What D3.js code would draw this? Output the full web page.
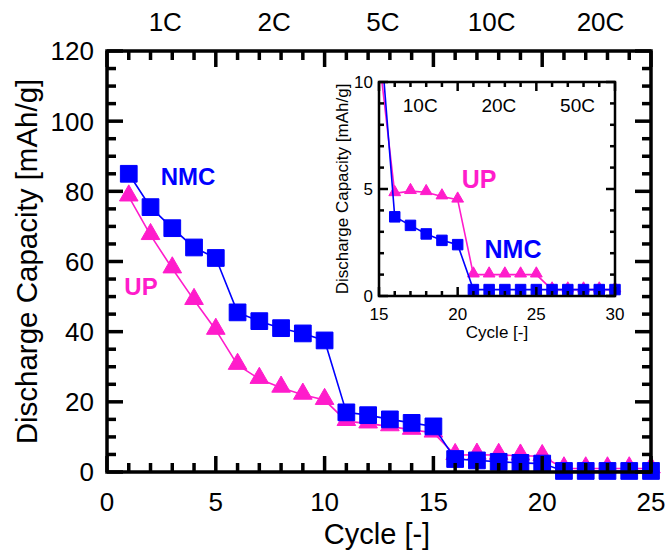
<!DOCTYPE html>
<html>
<head>
<meta charset="utf-8">
<script src="https://cdn.jsdelivr.net/npm/d3@7"></script>
<style>
  body { margin: 0; background: #fff; }
  text { font-family: "Liberation Sans", Arial, sans-serif; fill: #000; }
</style>
</head>
<body>
<div id="chartDivId"></div>
<script>
// Data
const cycles = [1, 2, 3, 4, 5, 6, 7, 8, 9, 10, 11, 12, 13, 14, 15,
                16, 17, 18, 19, 20, 21, 22, 23, 24, 25, 26, 27, 28, 29, 30];
const nmcCapacity = [85, 75.5, 69.5, 64, 61, 45.5, 43, 41, 39.5, 37.5,
                     17, 16.2, 15, 14, 13, 3.7, 3.3, 2.9, 2.6, 2.4,
                     0.3, 0.3, 0.3, 0.3, 0.3, 0.3, 0.3, 0.3, 0.3, 0.3];
const upCapacity = [78.5, 67.5, 58, 49, 40.5, 30.5, 26.5, 24, 22, 20.5,
                    14.5, 13.8, 13, 12, 11.2, 4.8, 4.9, 4.85, 4.65, 4.5,
                    1, 1, 1, 1, 1, 0.3, 0.3, 0.3, 0.3, 0.3];
const mainRates = ["1C", "2C", "5C", "10C", "20C"];
const mainRateCycles = [3, 8, 13, 18, 23];
const insetRates = ["10C", "20C", "50C"];
const insetRateCycles = [18, 23, 28];
const mainXTicks = [0, 5, 10, 15, 20, 25];
const mainYTicks = [0, 20, 40, 60, 80, 100, 120];
const insetXTicks = [15, 20, 25, 30];
const insetYTicks = [0, 5, 10];

const blue = "#0000ff";
const pink = "#ff1ccb";

const nmc = cycles.map((c, i) => ({ cycle: c, cap: nmcCapacity[i] }));
const up = cycles.map((c, i) => ({ cycle: c, cap: upCapacity[i] }));

const svg = d3.select("#chartDivId").append("svg")
    .attr("width", 672).attr("height", 551);
svg.append("rect").attr("width", 672).attr("height", 551).attr("fill", "#fff");

// draw a boxed frame with inward ticks on all four sides
function frame(g, x, y, opt) {
    const [x0, x1] = x.range();
    const [y0, y1] = y.range();
    const minorX = d3.range(x.domain()[0], x.domain()[1] + 0.001, opt.xMinor);
    const minorY = d3.range(y.domain()[0], y.domain()[1] + 0.001, opt.yMinor);
    const tk = g.append("g").attr("stroke", "#000").attr("stroke-width", opt.sw);
    minorX.forEach(v => {
        const len = opt.xMajor.includes(v) ? opt.major : opt.minor;
        tk.append("line").attr("x1", x(v)).attr("x2", x(v)).attr("y1", y0).attr("y2", y0 - len);
        tk.append("line").attr("x1", x(v)).attr("x2", x(v)).attr("y1", y1).attr("y2", y1 + len);
    });
    minorY.forEach(v => {
        const len = opt.yMajor.includes(v) ? opt.major : opt.minor;
        tk.append("line").attr("y1", y(v)).attr("y2", y(v)).attr("x1", x0).attr("x2", x0 + len);
        tk.append("line").attr("y1", y(v)).attr("y2", y(v)).attr("x1", x1).attr("x2", x1 - len);
    });
    g.append("rect")
        .attr("x", x0).attr("y", y1)
        .attr("width", x1 - x0).attr("height", y0 - y1)
        .attr("fill", "none").attr("stroke", "#000").attr("stroke-width", opt.sw);

    g.selectAll(".xl").data(opt.xMajor).enter().append("text")
        .attr("x", d => x(d)).attr("y", y0 + opt.xLabDy)
        .attr("text-anchor", "middle").style("font-size", opt.fs + "px")
        .text(d => d);
    g.selectAll(".yl").data(opt.yMajor).enter().append("text")
        .attr("x", x0 - opt.yLabDx).attr("y", d => y(d) + opt.fs * 0.36)
        .attr("text-anchor", "end").style("font-size", opt.fs + "px")
        .text(d => d);
}

function marks(g, data, x, y, color, shape, size) {
    const line = d3.line().x(d => x(d.cycle)).y(d => y(d.cap));
    g.append("path").datum(data)
        .attr("d", line).attr("fill", "none")
        .attr("stroke", color).attr("stroke-width", 1.6);
    const sym = d3.symbol().type(shape === "square" ? d3.symbolSquare : d3.symbolTriangle).size(size);
    g.selectAll(null).data(data).enter().append("path")
        .attr("d", sym)
        .attr("transform", d => "translate(" + x(d.cycle) + "," + (y(d.cap) + (shape === "square" ? 0 : -1)) + ")")
        .attr("fill", color).attr("stroke", color).attr("stroke-width", 1).attr("stroke-linejoin", "round");
}

// ---- main chart ----
const x = d3.scaleLinear().domain([0, 25]).range([107, 651]);
const y = d3.scaleLinear().domain([0, 120]).range([472, 51]);
const main = svg.append("g");

const mainData = main.append("g");
marks(mainData, up.filter(d => d.cycle <= 25), x, y, pink, "tri", 150);
marks(mainData, nmc.filter(d => d.cycle <= 25), x, y, blue, "square", 280);

frame(main, x, y, {
    xMinor: 1, yMinor: 5, xMajor: mainXTicks, yMajor: mainYTicks,
    major: 16, minor: 9, sw: 3.5, fs: 26, xLabDy: 39, yLabDx: 13
});

main.selectAll(".rate").data(mainRates).enter().append("text")
    .attr("x", (d, i) => x(mainRateCycles[i]) - 7).attr("y", 31)
    .attr("text-anchor", "middle").style("font-size", "26px")
    .text(d => d);

main.append("text")
    .attr("x", 377).attr("y", 544)
    .attr("text-anchor", "middle").style("font-size", "29px")
    .text("Cycle [-]");
main.append("text")
    .attr("transform", "translate(37," + ((y.range()[0] + y.range()[1]) / 2) + ") rotate(-90)")
    .attr("text-anchor", "middle").style("font-size", "29.5px")
    .text("Discharge Capacity [mAh/g]");

main.append("text").attr("x", 188).attr("y", 185)
    .attr("text-anchor", "middle").style("font-size", "24px").style("font-weight", "bold")
    .style("fill", blue).text("NMC");
main.append("text").attr("x", 141).attr("y", 295)
    .attr("text-anchor", "middle").style("font-size", "24px").style("font-weight", "bold")
    .style("fill", pink).text("UP");

// ---- inset ----
const ix = d3.scaleLinear().domain([15, 30]).range([379, 615]);
const iy = d3.scaleLinear().domain([0, 10]).range([296, 82]);
const inset = svg.append("g");
inset.append("rect")
    .attr("x", 379).attr("y", 82).attr("width", 236).attr("height", 214)
    .attr("fill", "#fff");

svg.append("clipPath").attr("id", "insetClip").append("rect")
    .attr("x", 379).attr("y", 82).attr("width", 250).attr("height", 230);
const insetData = inset.append("g").attr("clip-path", "url(#insetClip)");
marks(insetData, up.filter(d => d.cycle >= 15), ix, iy, pink, "tri", 60);
marks(insetData, nmc.filter(d => d.cycle >= 15), ix, iy, blue, "square", 110);

frame(inset, ix, iy, {
    xMinor: 1, yMinor: 1, xMajor: insetXTicks, yMajor: insetYTicks,
    major: 9, minor: 5, sw: 2.5, fs: 17, xLabDy: 24, yLabDx: 6
});

inset.selectAll(".rate").data(insetRates).enter().append("text")
    .attr("x", (d, i) => ix(insetRateCycles[i]) - 6).attr("y", 112)
    .attr("text-anchor", "middle").style("font-size", "19px")
    .text(d => d);

inset.append("text")
    .attr("x", 497).attr("y", 338)
    .attr("text-anchor", "middle").style("font-size", "17px")
    .text("Cycle [-]");
inset.append("text")
    .attr("transform", "translate(348," + ((iy.range()[0] + iy.range()[1]) / 2) + ") rotate(-90)")
    .attr("text-anchor", "middle").style("font-size", "17px")
    .text("Discharge Capacity [mAh/g]");

inset.append("text").attr("x", 479).attr("y", 188)
    .attr("text-anchor", "middle").style("font-size", "25px").style("font-weight", "bold")
    .style("fill", pink).text("UP");
inset.append("text").attr("x", 513).attr("y", 258)
    .attr("text-anchor", "middle").style("font-size", "25px").style("font-weight", "bold")
    .style("fill", blue).text("NMC");
</script>
</body>
</html>
